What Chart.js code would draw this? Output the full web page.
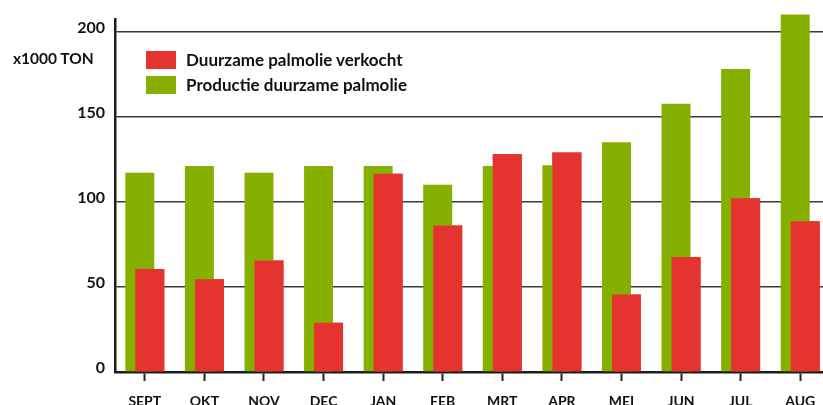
<!DOCTYPE html>
<html>
<head>
<meta charset="utf-8">
<script src="https://cdn.jsdelivr.net/npm/chart.js@4/dist/chart.umd.min.js"></script>
<style>
  html, body { margin: 0; padding: 0; background: #fff; overflow: hidden; width: 823px; height: 405px; }
  #wrap { position: relative; width: 823px; height: 405px; overflow: hidden; }
  canvas { position: absolute; left: 0; top: 0; }
  .lbl { position: absolute; font-family: Lato, "Open Sans", sans-serif; font-weight: 700; color: #111; white-space: nowrap; }
  .box { position: absolute; width: 30px; height: 18px; }
</style>
</head>
<body>
<div id="wrap">
  <canvas id="c" width="830" height="420"></canvas>
  <div class="lbl" id="ytitle" style="left:13px; top:49px; font-size:15.5px;"></div>
  <div id="legend"></div>
</div>
<script>
const months = ['SEPT','OKT','NOV','DEC','JAN','FEB','MRT','APR','MEI','JUN','JUL','AUG'];
const productie = [117, 121, 117, 121, 121, 110, 121, 121.5, 135, 157.5, 178, 210];
const verkocht = [60.5, 54.5, 65.5, 29, 116.5, 86, 128, 129, 45.5, 67.5, 102, 88.5];
const yTicks = [0, 50, 100, 150, 200];
const yTitle = 'x1000 TON';
const labelVerkocht = 'Duurzame palmolie verkocht';
const labelProductie = 'Productie duurzame palmolie';

const GREEN = '#86b000';
const RED = '#e5342f';

document.getElementById('ytitle').textContent = yTitle;

// HTML legend (red first, then green)
const legendItems = [
  { text: labelVerkocht, color: RED, top: 51 },
  { text: labelProductie, color: GREEN, top: 76 }
];
const legendEl = document.getElementById('legend');
legendItems.forEach(it => {
  const b = document.createElement('div');
  b.className = 'box';
  b.style.left = '146px';
  b.style.top = it.top + 'px';
  b.style.background = it.color;
  legendEl.appendChild(b);
  const t = document.createElement('div');
  t.className = 'lbl';
  t.style.left = '186px';
  t.style.top = (it.top - 2) + 'px';
  t.style.fontSize = '17px';
  t.textContent = it.text;
  legendEl.appendChild(t);
});

const redOnTop = {
  id: 'redOnTop',
  afterDatasetsDraw(chart) {
    const meta = chart.getDatasetMeta(1);
    if (meta && meta.controller) meta.controller.draw();
  }
};

new Chart(document.getElementById('c'), {
  type: 'bar',
  data: {
    labels: months,
    datasets: [
      { label: labelProductie, data: productie, backgroundColor: GREEN, clip: false,
        categoryPercentage: 0.3356, barPercentage: 2.9 },
      { label: labelVerkocht, data: verkocht, backgroundColor: RED,
        categoryPercentage: 0.3356, barPercentage: 2.9 }
    ]
  },
  options: {
    responsive: false,
    animation: false,
    devicePixelRatio: 1,
    layout: { padding: { top: 17, left: 0, right: 0, bottom: 0 } },
    plugins: { legend: { display: false }, tooltip: { enabled: false } },
    scales: {
      x: {
        afterFit(scale) { scale.height = 48; },
        grid: { offset: false, drawOnChartArea: false, drawTicks: true, tickLength: 9,
                tickColor: '#222', tickWidth: 2, color: '#222' },
        border: { display: true, color: '#1c1c1c', width: 2.5 },
        ticks: { color: '#111', padding: 12, font: { family: 'Lato', weight: 'bold', size: 14 } }
      },
      y: {
        min: 0, max: 207,
        afterFit(scale) { scale.width = 115; },
        afterBuildTicks(scale) { scale.ticks = yTicks.map(v => ({ value: v })); },
        grid: { color: '#3a3a3a', lineWidth: 1.6, drawTicks: false },
        border: { display: true, color: '#1c1c1c', width: 2.5 },
        ticks: { color: '#111', padding: 10, labelOffset: -4, includeBounds: false,
                 font: { family: 'Lato', weight: 'bold', size: 16 } }
      }
    }
  },
  plugins: [redOnTop]
});
</script>
</body>
</html>
